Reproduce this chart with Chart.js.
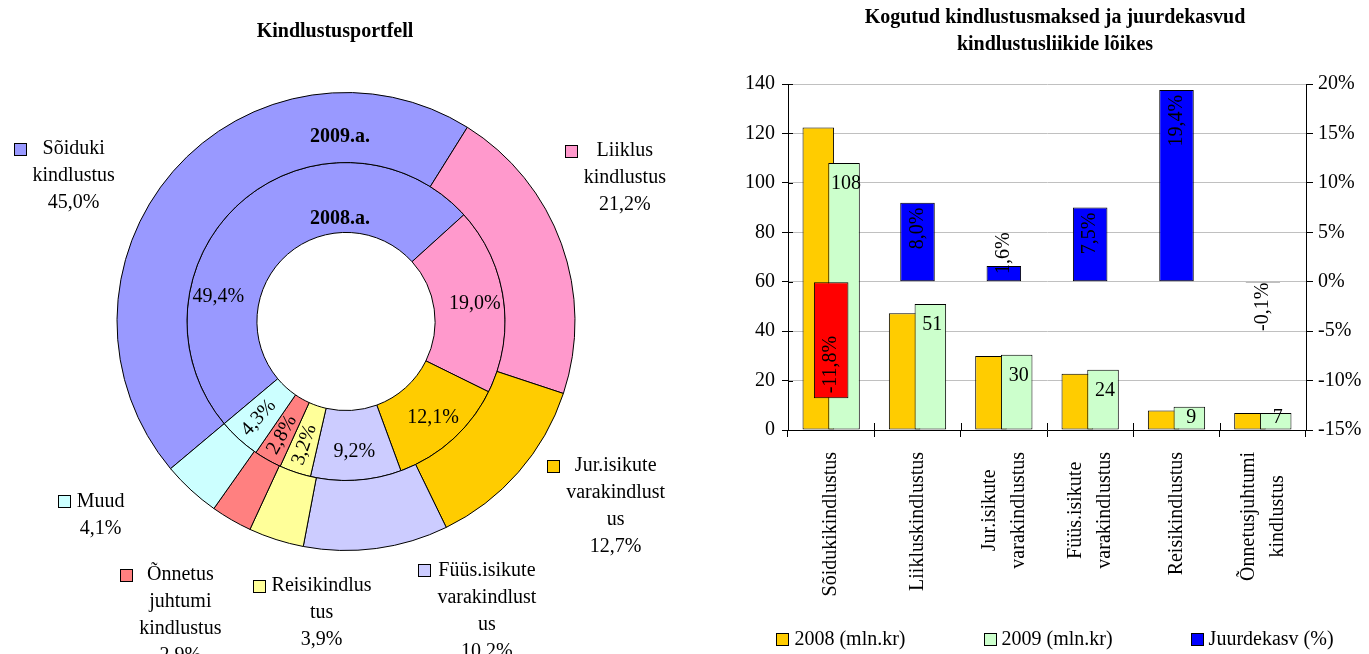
<!DOCTYPE html>
<html lang="et">
<head>
<meta charset="utf-8">
<title>Kindlustusportfell</title>
<script src="https://cdn.jsdelivr.net/npm/chart.js@4.4.1/dist/chart.umd.min.js"></script>
<style>
  html, body { margin: 0; padding: 0; background: #fff; }
  body { width: 1369px; height: 654px; position: relative; overflow: hidden; font-family: "Liberation Serif", serif; }
  #pieBox { position: absolute; left: 0; top: 0; width: 692px; height: 654px; }
  #barBox { position: absolute; left: 741px; top: 0; width: 628px; height: 654px; }
  #pieTitle { position: absolute; left: 0; top: 17px; width: 670px; text-align: center; font-weight: bold; font-size: 20px; line-height: 26px; }
</style>
</head>
<body>
<div id="pieBox"><canvas id="portfolioChart"></canvas></div>
<div id="pieTitle">Kindlustusportfell</div>
<div id="barBox"><canvas id="premiumsChart"></canvas></div>
<script>
// Portfell: välimine ring 2009, sisemine 2008 (%)
const portfolioLabels = [
  ['Sõiduki', 'kindlustus'],
  ['Liiklus', 'kindlustus'],
  ['Jur.isikute', 'varakindlust', 'us'],
  ['Füüs.isikute', 'varakindlust', 'us'],
  ['Reisikindlus', 'tus'],
  ['Õnnetus', 'juhtumi', 'kindlustus'],
  ['Muud']
];
const portfolio2009 = [45.0, 21.2, 12.7, 10.2, 3.9, 2.9, 4.1];
const portfolio2008 = [49.4, 19.0, 12.1, 9.2, 3.2, 2.8, 4.3];
const portfolioColors = ['#9999ff', '#ff99cc', '#ffcc00', '#ccccff', '#ffff99', '#ff8080', '#ccffff'];
const ringNames = ['2009.a.', '2008.a.'];

// Kindlustusmaksed (mln.kr) ja juurdekasv (%)
const insuranceTypes = [
  ['Sõidukikindlustus'],
  ['Liikluskindlustus'],
  ['Jur.isikute', 'varakindlustus'],
  ['Füüs.isikute', 'varakindlustus'],
  ['Reisikindlustus'],
  ['Õnnetusjuhtumi', 'kindlustus']
];
const premiums2008 = [122.4, 47.2, 29.9, 22.8, 7.9, 6.9];
const premiums2009 = [108.0, 51.0, 30.4, 24.4, 9.4, 6.9];
const growthPct = [-11.8, 8.0, 1.6, 7.5, 19.4, -0.1];
const amountTicks = [0, 20, 40, 60, 80, 100, 120, 140];
const growthTicks = [-15, -10, -5, 0, 5, 10, 15, 20];
const seriesNames = ['2008 (mln.kr)', '2009 (mln.kr)', 'Juurdekasv (%)'];
const seriesColors = ['#ffcc00', '#ccffcc', '#0000ff'];
const fallColor = '#ff0000';

// sildid on Excelis käsitsi paigutatud
const outerLabelNudge = [[-39, 57], [-12, -39], [37, -19], [100, -17], [70, -3], [-11, 26], [-36, -34]];
const innerLabelAngle = [281, null, null, null, null, null, null];

const FONT = '20px "Liberation Serif"';
const BOLD = 'bold 20px "Liberation Serif"';
const LINE = 27;

Chart.defaults.font.family = '"Liberation Serif", serif';
Chart.defaults.font.size = 20;
Chart.defaults.color = '#000';

const pct = v => v.toFixed(1).replace('.', ',') + '%';

function keyBox(ctx, x, y, size, color) {
  x = Math.round(x) + 0.5;
  y = Math.round(y) + 0.5;
  ctx.fillStyle = color;
  ctx.fillRect(x, y, size, size);
  ctx.strokeStyle = '#000';
  ctx.lineWidth = 1;
  ctx.strokeRect(x, y, size, size);
}

// Rõnga sildid
const ringLabels = {
  id: 'ringLabels',
  afterDraw(chart) {
    const ctx = chart.ctx;
    const outer = chart.getDatasetMeta(0).data;
    const inner = chart.getDatasetMeta(1).data;
    const cx = outer[0].x, cy = outer[0].y;
    ctx.save();
    ctx.textAlign = 'center';
    ctx.textBaseline = 'middle';
    ctx.fillStyle = '#000';

    // sisemise ringi protsendid
    ctx.font = FONT;
    inner.forEach((arc, i) => {
      let a = (arc.startAngle + arc.endAngle) / 2;
      if (innerLabelAngle[i] != null) a = (innerLabelAngle[i] - 90) * Math.PI / 180;
      const r = (arc.innerRadius + arc.outerRadius) / 2 + 6;
      ctx.save();
      ctx.translate(cx + r * Math.cos(a), cy + r * Math.sin(a));
      if (portfolio2008[i] < 5) ctx.rotate(a - Math.PI);
      ctx.fillText(pct(portfolio2008[i]), 0, 0);
      ctx.restore();
    });

    // välimise ringi sildid koos legendiruuduga
    outer.forEach((arc, i) => {
      const a = (arc.startAngle + arc.endAngle) / 2;
      const r = arc.outerRadius * 1.35;
      const bx = cx + r * Math.cos(a) + outerLabelNudge[i][0];
      const by = cy + r * Math.sin(a) + outerLabelNudge[i][1];
      const lines = [...portfolioLabels[i], pct(portfolio2009[i])];
      const w = Math.max(...lines.map(t => ctx.measureText(t).width));
      const top = by - (lines.length - 1) * LINE / 2;
      ctx.fillStyle = '#000';
      lines.forEach((t, j) => ctx.fillText(t, bx, top + j * LINE));
      keyBox(ctx, bx - w / 2 - 19, top - 6, 12, portfolioColors[i]);
    });

    // aastad
    ctx.font = BOLD;
    ctx.fillStyle = '#000';
    ctx.fillText(ringNames[0], cx - 6, cy - (outer[0].innerRadius + 0.36 * (outer[0].outerRadius - outer[0].innerRadius)));
    ctx.fillText(ringNames[1], cx - 6, cy - (inner[0].innerRadius + 0.2 * (inner[0].outerRadius - inner[0].innerRadius)));
    ctx.restore();
  }
};

new Chart(document.getElementById('portfolioChart'), {
  type: 'doughnut',
  data: {
    labels: portfolioLabels.map(l => l.join(' ')),
    datasets: [
      { label: ringNames[0], data: portfolio2009, backgroundColor: portfolioColors, borderColor: '#000', borderWidth: 1 },
      { label: ringNames[1], data: portfolio2008, backgroundColor: portfolioColors, borderColor: '#000', borderWidth: 1 }
    ]
  },
  options: {
    responsive: true,
    maintainAspectRatio: false,
    animation: false,
    rotation: 230,
    cutout: '38.9%',
    layout: { padding: { top: 92, bottom: 103 } },
    plugins: {
      legend: { display: false },
      tooltip: { enabled: false }
    }
  },
  plugins: [ringLabels]
});

// Tulpade sildid, legend ja joonistamise järjekord
const barLabels = {
  id: 'barLabels',
  beforeDatasetsDraw(chart) {
    // 2008 alla, 2009 peale, juurdekasv kõige peale
    chart.getSortedVisibleDatasetMetas().forEach(meta => meta.controller.draw());
    return false;
  },
  afterDraw(chart) {
    const ctx = chart.ctx;
    const xs = chart.scales.x;
    const ys = chart.scales.y;
    ctx.save();

    // läbivad kriipsud vasakul ja all teljel
    ctx.strokeStyle = '#000';
    ctx.lineWidth = 1;
    ctx.beginPath();
    ys.ticks.forEach(t => {
      const y = Math.round(ys.getPixelForValue(t.value)) + 0.5;
      ctx.moveTo(ys.right, y);
      ctx.lineTo(ys.right + 5, y);
    });
    for (let i = 1; i < insuranceTypes.length; i++) {
      const x = Math.round((xs.getPixelForValue(i - 1) + xs.getPixelForValue(i)) / 2) + 0.5;
      ctx.moveTo(x, xs.top);
      ctx.lineTo(x, xs.top - 7);
    }
    ctx.stroke();

    ctx.font = FONT;
    ctx.fillStyle = '#000';
    ctx.textAlign = 'center';
    ctx.textBaseline = 'middle';

    chart.getDatasetMeta(1).data.forEach((bar, i) => {
      ctx.fillText(String(Math.round(premiums2009[i])), bar.x + 2, Math.min(bar.y + 21, bar.base - 12));
    });

    chart.getDatasetMeta(2).data.forEach((bar, i) => {
      const v = growthPct[i];
      const text = pct(v);
      const len = ctx.measureText(text).width;
      const fits = Math.abs(bar.base - bar.y) > len + 10;
      let y;
      if (v >= 0) y = fits ? bar.y + 5 + len / 2 : bar.y + 8 - len / 2;
      else y = fits ? bar.y - 5 - len / 2 : bar.y + len / 2;
      ctx.save();
      ctx.translate(bar.x, y);
      ctx.rotate(-Math.PI / 2);
      ctx.fillText(text, 0, 0);
      ctx.restore();
    });

    // kategooriad, read keskele joondatud
    insuranceTypes.forEach((lines, i) => {
      const x = xs.getPixelForValue(i);
      const longest = Math.max(...lines.map(t => ctx.measureText(t).width));
      const y = xs.top + 22 + longest / 2;
      lines.forEach((t, j) => {
        ctx.save();
        ctx.translate(x + (j - (lines.length - 1) / 2) * 29, y);
        ctx.rotate(-Math.PI / 2);
        ctx.fillText(t, 0, 0);
        ctx.restore();
      });
    });

    // legend
    ctx.textAlign = 'left';
    const gap = 78;
    const widths = seriesNames.map(t => 13 + 5 + ctx.measureText(t).width);
    const total = widths.reduce((s, w) => s + w, 0) + gap * (widths.length - 1);
    let lx = chart.width / 2 - total / 2;
    const ly = chart.height - 14;
    seriesNames.forEach((t, i) => {
      keyBox(ctx, lx, ly - 7, 12, seriesColors[i]);
      ctx.fillStyle = '#000';
      ctx.fillText(t, lx + 18, ly);
      lx += widths[i] + gap;
    });
    ctx.restore();
  }
};

new Chart(document.getElementById('premiumsChart'), {
  type: 'bar',
  data: {
    labels: insuranceTypes,
    datasets: [
      {
        label: seriesNames[0], data: premiums2008, yAxisID: 'y',
        backgroundColor: seriesColors[0], borderColor: '#000', borderWidth: 1, borderSkipped: false,
        categoryPercentage: 0.596, barPercentage: 1.226
      },
      {
        label: seriesNames[1], data: premiums2009, yAxisID: 'y',
        backgroundColor: seriesColors[1], borderColor: '#000', borderWidth: 1, borderSkipped: false,
        categoryPercentage: 0.596, barPercentage: 1.226
      },
      {
        label: seriesNames[2], data: growthPct, yAxisID: 'y2', grouped: false,
        backgroundColor: growthPct.map(v => (v < 0 ? fallColor : seriesColors[2])),
        borderColor: '#000', borderWidth: 1, borderSkipped: false,
        categoryPercentage: 1, barPercentage: 0.4
      }
    ]
  },
  options: {
    responsive: true,
    maintainAspectRatio: false,
    animation: false,
    layout: { padding: { bottom: 95 } },
    scales: {
      x: {
        grid: { drawOnChartArea: false, drawTicks: true, tickLength: 7, tickColor: '#000', offset: true },
        border: { color: '#000' },
        ticks: { color: 'rgba(0,0,0,0)', minRotation: 90, maxRotation: 90, autoSkip: false },
        afterFit: s => { s.height = 129; }
      },
      y: {
        position: 'left',
        min: amountTicks[0],
        max: amountTicks[amountTicks.length - 1],
        ticks: { stepSize: amountTicks[1] - amountTicks[0], padding: 7, color: '#000' },
        grid: { color: '#c0c0c0', tickColor: '#000', tickLength: 6 },
        border: { color: '#000' },
        afterFit: s => { s.width = 47; }
      },
      y2: {
        position: 'right',
        min: growthTicks[0],
        max: growthTicks[growthTicks.length - 1],
        ticks: { stepSize: growthTicks[1] - growthTicks[0], padding: 5, color: '#000', callback: v => v + '%' },
        grid: { drawOnChartArea: false, tickColor: '#000', tickLength: 7 },
        border: { color: '#000' },
        afterFit: s => { s.width = 63; }
      }
    },
    plugins: {
      title: {
        display: true,
        text: ['Kogutud kindlustusmaksed ja juurdekasvud', 'kindlustusliikide lõikes'],
        color: '#000',
        font: { weight: 'bold', size: 20, lineHeight: 1.35 },
        padding: { top: 4.5, bottom: 25.5 }
      },
      legend: { display: false },
      tooltip: { enabled: false }
    }
  },
  plugins: [barLabels]
});
</script>
</body>
</html>
